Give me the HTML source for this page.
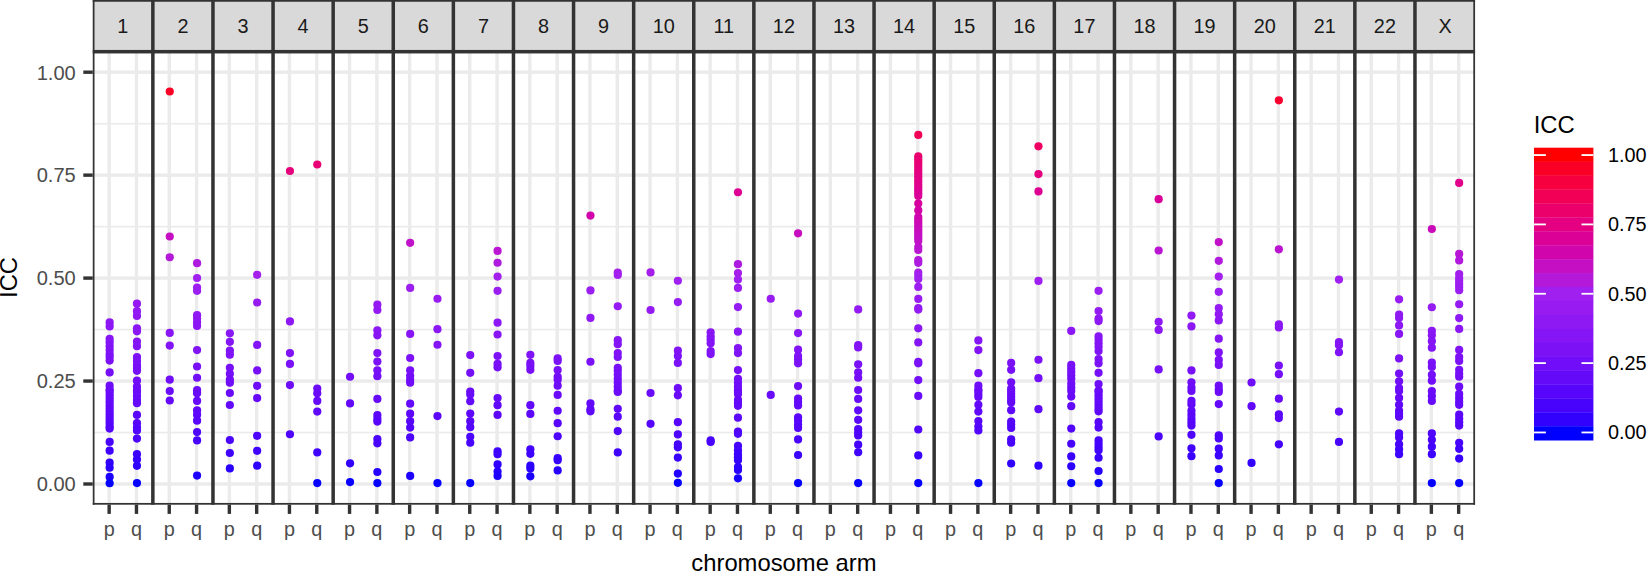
<!DOCTYPE html><html><head><meta charset="utf-8"><title>ICC by chromosome arm</title>
<style>html,body{margin:0;padding:0;background:#fff}svg{display:block}text{font-family:"Liberation Sans",Arial,Helvetica,sans-serif}</style></head><body>
<svg width="1647" height="572" viewBox="0 0 1647 572">
<rect width="1647" height="572" fill="#fff"/>
<rect x="92.76" y="0" width="1382.30" height="51.7" fill="#d9d9d9"/>
<g fill="#ebebeb"><rect x="92.76" y="431.67" width="1382.30" height="1.7"/><rect x="92.76" y="328.72" width="1382.30" height="1.7"/><rect x="92.76" y="225.78" width="1382.30" height="1.7"/><rect x="92.76" y="122.83" width="1382.30" height="1.7"/><rect x="92.76" y="482.30" width="1382.30" height="3.4"/><rect x="92.76" y="379.35" width="1382.30" height="3.4"/><rect x="92.76" y="276.40" width="1382.30" height="3.4"/><rect x="92.76" y="173.45" width="1382.30" height="3.4"/><rect x="92.76" y="70.50" width="1382.30" height="3.4"/><rect x="107.45" y="51.7" width="3.4" height="453.00"/><rect x="134.77" y="51.7" width="3.4" height="453.00"/><rect x="167.55" y="51.7" width="3.4" height="453.00"/><rect x="194.87" y="51.7" width="3.4" height="453.00"/><rect x="227.65" y="51.7" width="3.4" height="453.00"/><rect x="254.97" y="51.7" width="3.4" height="453.00"/><rect x="287.75" y="51.7" width="3.4" height="453.00"/><rect x="315.07" y="51.7" width="3.4" height="453.00"/><rect x="347.85" y="51.7" width="3.4" height="453.00"/><rect x="375.17" y="51.7" width="3.4" height="453.00"/><rect x="407.95" y="51.7" width="3.4" height="453.00"/><rect x="435.27" y="51.7" width="3.4" height="453.00"/><rect x="468.05" y="51.7" width="3.4" height="453.00"/><rect x="495.37" y="51.7" width="3.4" height="453.00"/><rect x="528.15" y="51.7" width="3.4" height="453.00"/><rect x="555.47" y="51.7" width="3.4" height="453.00"/><rect x="588.25" y="51.7" width="3.4" height="453.00"/><rect x="615.57" y="51.7" width="3.4" height="453.00"/><rect x="648.35" y="51.7" width="3.4" height="453.00"/><rect x="675.67" y="51.7" width="3.4" height="453.00"/><rect x="708.45" y="51.7" width="3.4" height="453.00"/><rect x="735.77" y="51.7" width="3.4" height="453.00"/><rect x="768.55" y="51.7" width="3.4" height="453.00"/><rect x="795.87" y="51.7" width="3.4" height="453.00"/><rect x="828.65" y="51.7" width="3.4" height="453.00"/><rect x="855.97" y="51.7" width="3.4" height="453.00"/><rect x="888.75" y="51.7" width="3.4" height="453.00"/><rect x="916.07" y="51.7" width="3.4" height="453.00"/><rect x="948.85" y="51.7" width="3.4" height="453.00"/><rect x="976.17" y="51.7" width="3.4" height="453.00"/><rect x="1008.95" y="51.7" width="3.4" height="453.00"/><rect x="1036.27" y="51.7" width="3.4" height="453.00"/><rect x="1069.05" y="51.7" width="3.4" height="453.00"/><rect x="1096.37" y="51.7" width="3.4" height="453.00"/><rect x="1129.15" y="51.7" width="3.4" height="453.00"/><rect x="1156.47" y="51.7" width="3.4" height="453.00"/><rect x="1189.25" y="51.7" width="3.4" height="453.00"/><rect x="1216.57" y="51.7" width="3.4" height="453.00"/><rect x="1249.35" y="51.7" width="3.4" height="453.00"/><rect x="1276.67" y="51.7" width="3.4" height="453.00"/><rect x="1309.45" y="51.7" width="3.4" height="453.00"/><rect x="1336.77" y="51.7" width="3.4" height="453.00"/><rect x="1369.55" y="51.7" width="3.4" height="453.00"/><rect x="1396.87" y="51.7" width="3.4" height="453.00"/><rect x="1429.65" y="51.7" width="3.4" height="453.00"/><rect x="1456.97" y="51.7" width="3.4" height="453.00"/></g>
<g><circle cx="109.65" cy="322.44" r="4.1" fill="#8e18f3"/><circle cx="109.65" cy="326.39" r="4.1" fill="#8c17f4"/><circle cx="109.65" cy="338.83" r="4.1" fill="#8615f4"/><circle cx="109.65" cy="342.19" r="4.1" fill="#8515f5"/><circle cx="109.65" cy="346.14" r="4.1" fill="#8314f5"/><circle cx="109.65" cy="350.09" r="4.1" fill="#8113f5"/><circle cx="109.65" cy="354.04" r="4.1" fill="#7f12f6"/><circle cx="109.65" cy="357.00" r="4.1" fill="#7d12f6"/><circle cx="109.65" cy="360.56" r="4.1" fill="#7c11f6"/><circle cx="109.65" cy="372.41" r="4.1" fill="#760ff7"/><circle cx="109.65" cy="385.64" r="4.1" fill="#6e0df8"/><circle cx="109.65" cy="389.59" r="4.1" fill="#6c0cf8"/><circle cx="109.65" cy="391.00" r="4.1" fill="#6b0cf8"/><circle cx="109.65" cy="393.96" r="4.1" fill="#6a0bf9"/><circle cx="109.65" cy="396.93" r="4.1" fill="#680af9"/><circle cx="109.65" cy="399.89" r="4.1" fill="#660af9"/><circle cx="109.65" cy="402.85" r="4.1" fill="#6409f9"/><circle cx="109.65" cy="405.81" r="4.1" fill="#6309f9"/><circle cx="109.65" cy="408.78" r="4.1" fill="#6108fa"/><circle cx="109.65" cy="411.74" r="4.1" fill="#5f08fa"/><circle cx="109.65" cy="414.70" r="4.1" fill="#5d07fa"/><circle cx="109.65" cy="417.66" r="4.1" fill="#5b07fa"/><circle cx="109.65" cy="420.63" r="4.1" fill="#5906fa"/><circle cx="109.65" cy="423.59" r="4.1" fill="#5706fb"/><circle cx="109.65" cy="426.55" r="4.1" fill="#5405fb"/><circle cx="109.65" cy="428.53" r="4.1" fill="#5305fb"/><circle cx="109.65" cy="441.96" r="4.1" fill="#4803fc"/><circle cx="109.65" cy="450.65" r="4.1" fill="#4002fd"/><circle cx="109.65" cy="462.70" r="4.1" fill="#3201fd"/><circle cx="109.65" cy="467.63" r="4.1" fill="#2c01fe"/><circle cx="109.65" cy="476.92" r="4.1" fill="#1b00fe"/><circle cx="109.65" cy="483.24" r="4.1" fill="#0400ff"/><circle cx="136.97" cy="303.68" r="4.1" fill="#961bf2"/><circle cx="136.97" cy="311.18" r="4.1" fill="#921af2"/><circle cx="136.97" cy="315.92" r="4.1" fill="#9019f3"/><circle cx="136.97" cy="328.37" r="4.1" fill="#8b17f4"/><circle cx="136.97" cy="331.33" r="4.1" fill="#8a17f4"/><circle cx="136.97" cy="341.60" r="4.1" fill="#8515f5"/><circle cx="136.97" cy="346.14" r="4.1" fill="#8314f5"/><circle cx="136.97" cy="357.00" r="4.1" fill="#7d12f6"/><circle cx="136.97" cy="360.95" r="4.1" fill="#7b11f6"/><circle cx="136.97" cy="364.90" r="4.1" fill="#7910f6"/><circle cx="136.97" cy="367.87" r="4.1" fill="#7810f7"/><circle cx="136.97" cy="370.83" r="4.1" fill="#760ff7"/><circle cx="136.97" cy="380.71" r="4.1" fill="#710df8"/><circle cx="136.97" cy="386.63" r="4.1" fill="#6e0cf8"/><circle cx="136.97" cy="390.58" r="4.1" fill="#6c0cf8"/><circle cx="136.97" cy="391.99" r="4.1" fill="#6b0bf8"/><circle cx="136.97" cy="395.94" r="4.1" fill="#690bf9"/><circle cx="136.97" cy="399.89" r="4.1" fill="#660af9"/><circle cx="136.97" cy="403.25" r="4.1" fill="#6409f9"/><circle cx="136.97" cy="414.90" r="4.1" fill="#5d07fa"/><circle cx="136.97" cy="423.19" r="4.1" fill="#5706fb"/><circle cx="136.97" cy="427.54" r="4.1" fill="#5405fb"/><circle cx="136.97" cy="430.50" r="4.1" fill="#5105fb"/><circle cx="136.97" cy="438.60" r="4.1" fill="#4b04fc"/><circle cx="136.97" cy="454.20" r="4.1" fill="#3c02fd"/><circle cx="136.97" cy="459.54" r="4.1" fill="#3602fd"/><circle cx="136.97" cy="465.86" r="4.1" fill="#2e01fe"/><circle cx="136.97" cy="483.04" r="4.1" fill="#0500ff"/><circle cx="169.75" cy="91.50" r="4.1" fill="#fb0025"/><circle cx="169.75" cy="236.50" r="4.1" fill="#c40fc2"/><circle cx="169.75" cy="257.24" r="4.1" fill="#b418d9"/><circle cx="169.75" cy="332.91" r="4.1" fill="#8916f4"/><circle cx="169.75" cy="345.55" r="4.1" fill="#8314f5"/><circle cx="169.75" cy="379.72" r="4.1" fill="#720ef7"/><circle cx="169.75" cy="391.00" r="4.1" fill="#6b0cf8"/><circle cx="169.75" cy="400.48" r="4.1" fill="#660af9"/><circle cx="197.07" cy="263.16" r="4.1" fill="#af1adf"/><circle cx="197.07" cy="277.98" r="4.1" fill="#a020f0"/><circle cx="197.07" cy="287.48" r="4.1" fill="#9c1ef1"/><circle cx="197.07" cy="290.84" r="4.1" fill="#9b1ef1"/><circle cx="197.07" cy="315.13" r="4.1" fill="#9119f3"/><circle cx="197.07" cy="318.49" r="4.1" fill="#8f19f3"/><circle cx="197.07" cy="322.44" r="4.1" fill="#8e18f3"/><circle cx="197.07" cy="326.00" r="4.1" fill="#8c17f4"/><circle cx="197.07" cy="350.09" r="4.1" fill="#8113f5"/><circle cx="197.07" cy="366.49" r="4.1" fill="#7910f7"/><circle cx="197.07" cy="377.74" r="4.1" fill="#730ef7"/><circle cx="197.07" cy="390.19" r="4.1" fill="#6c0cf8"/><circle cx="197.07" cy="393.37" r="4.1" fill="#6a0bf8"/><circle cx="197.07" cy="400.88" r="4.1" fill="#660af9"/><circle cx="197.07" cy="410.36" r="4.1" fill="#6008fa"/><circle cx="197.07" cy="414.70" r="4.1" fill="#5d07fa"/><circle cx="197.07" cy="420.63" r="4.1" fill="#5906fa"/><circle cx="197.07" cy="432.08" r="4.1" fill="#5005fb"/><circle cx="197.07" cy="440.38" r="4.1" fill="#4904fc"/><circle cx="197.07" cy="475.53" r="4.1" fill="#1e00fe"/><circle cx="229.85" cy="333.30" r="4.1" fill="#8916f4"/><circle cx="229.85" cy="341.80" r="4.1" fill="#8515f5"/><circle cx="229.85" cy="350.68" r="4.1" fill="#8113f5"/><circle cx="229.85" cy="354.63" r="4.1" fill="#7f12f6"/><circle cx="229.85" cy="367.87" r="4.1" fill="#7810f7"/><circle cx="229.85" cy="373.79" r="4.1" fill="#750ff7"/><circle cx="229.85" cy="379.72" r="4.1" fill="#720ef7"/><circle cx="229.85" cy="382.68" r="4.1" fill="#700df8"/><circle cx="229.85" cy="392.98" r="4.1" fill="#6a0bf8"/><circle cx="229.85" cy="405.02" r="4.1" fill="#6309f9"/><circle cx="229.85" cy="439.98" r="4.1" fill="#4a04fc"/><circle cx="229.85" cy="453.02" r="4.1" fill="#3e02fd"/><circle cx="229.85" cy="468.42" r="4.1" fill="#2b01fe"/><circle cx="257.17" cy="274.82" r="4.1" fill="#a41fec"/><circle cx="257.17" cy="302.49" r="4.1" fill="#961cf2"/><circle cx="257.17" cy="344.96" r="4.1" fill="#8314f5"/><circle cx="257.17" cy="370.44" r="4.1" fill="#770ff7"/><circle cx="257.17" cy="385.84" r="4.1" fill="#6e0df8"/><circle cx="257.17" cy="398.11" r="4.1" fill="#670af9"/><circle cx="257.17" cy="435.84" r="4.1" fill="#4d04fc"/><circle cx="257.17" cy="450.85" r="4.1" fill="#4002fd"/><circle cx="257.17" cy="465.66" r="4.1" fill="#2f01fe"/><circle cx="289.95" cy="171.00" r="4.1" fill="#e5007c"/><circle cx="289.95" cy="321.45" r="4.1" fill="#8e18f3"/><circle cx="289.95" cy="353.05" r="4.1" fill="#7f13f6"/><circle cx="289.95" cy="363.92" r="4.1" fill="#7a11f6"/><circle cx="289.95" cy="385.05" r="4.1" fill="#6f0df8"/><circle cx="289.95" cy="434.25" r="4.1" fill="#4f04fb"/><circle cx="317.27" cy="164.50" r="4.1" fill="#e80075"/><circle cx="317.27" cy="388.61" r="4.1" fill="#6d0cf8"/><circle cx="317.27" cy="393.37" r="4.1" fill="#6a0bf8"/><circle cx="317.27" cy="400.88" r="4.1" fill="#660af9"/><circle cx="317.27" cy="411.54" r="4.1" fill="#5f08fa"/><circle cx="317.27" cy="452.43" r="4.1" fill="#3e02fd"/><circle cx="317.27" cy="483.04" r="4.1" fill="#0500ff"/><circle cx="350.05" cy="376.76" r="4.1" fill="#730ef7"/><circle cx="350.05" cy="403.44" r="4.1" fill="#6409f9"/><circle cx="350.05" cy="463.29" r="4.1" fill="#3201fe"/><circle cx="350.05" cy="482.05" r="4.1" fill="#0a00ff"/><circle cx="377.37" cy="304.66" r="4.1" fill="#951bf2"/><circle cx="377.37" cy="310.00" r="4.1" fill="#931af2"/><circle cx="377.37" cy="330.34" r="4.1" fill="#8a17f4"/><circle cx="377.37" cy="335.28" r="4.1" fill="#8816f4"/><circle cx="377.37" cy="353.05" r="4.1" fill="#7f13f6"/><circle cx="377.37" cy="361.55" r="4.1" fill="#7b11f6"/><circle cx="377.37" cy="370.24" r="4.1" fill="#770ff7"/><circle cx="377.37" cy="376.16" r="4.1" fill="#740ef7"/><circle cx="377.37" cy="398.90" r="4.1" fill="#670af9"/><circle cx="377.37" cy="415.10" r="4.1" fill="#5c07fa"/><circle cx="377.37" cy="418.65" r="4.1" fill="#5a07fa"/><circle cx="377.37" cy="421.61" r="4.1" fill="#5806fb"/><circle cx="377.37" cy="439.00" r="4.1" fill="#4b04fc"/><circle cx="377.37" cy="443.34" r="4.1" fill="#4703fc"/><circle cx="377.37" cy="471.98" r="4.1" fill="#2501fe"/><circle cx="377.37" cy="483.04" r="4.1" fill="#0500ff"/><circle cx="410.15" cy="242.82" r="4.1" fill="#c012c9"/><circle cx="410.15" cy="287.88" r="4.1" fill="#9c1ef1"/><circle cx="410.15" cy="333.90" r="4.1" fill="#8816f4"/><circle cx="410.15" cy="357.99" r="4.1" fill="#7d12f6"/><circle cx="410.15" cy="370.24" r="4.1" fill="#770ff7"/><circle cx="410.15" cy="375.77" r="4.1" fill="#740ef7"/><circle cx="410.15" cy="379.72" r="4.1" fill="#720ef7"/><circle cx="410.15" cy="382.68" r="4.1" fill="#700df8"/><circle cx="410.15" cy="403.64" r="4.1" fill="#6409f9"/><circle cx="410.15" cy="413.71" r="4.1" fill="#5d07fa"/><circle cx="410.15" cy="421.22" r="4.1" fill="#5806fa"/><circle cx="410.15" cy="427.54" r="4.1" fill="#5405fb"/><circle cx="410.15" cy="437.42" r="4.1" fill="#4c04fc"/><circle cx="410.15" cy="475.93" r="4.1" fill="#1d00fe"/><circle cx="437.47" cy="298.74" r="4.1" fill="#981cf2"/><circle cx="437.47" cy="329.16" r="4.1" fill="#8b17f4"/><circle cx="437.47" cy="344.76" r="4.1" fill="#8314f5"/><circle cx="437.47" cy="416.08" r="4.1" fill="#5c07fa"/><circle cx="437.47" cy="483.04" r="4.1" fill="#0500ff"/><circle cx="470.25" cy="355.03" r="4.1" fill="#7e12f6"/><circle cx="470.25" cy="372.81" r="4.1" fill="#750ff7"/><circle cx="470.25" cy="391.59" r="4.1" fill="#6b0bf8"/><circle cx="470.25" cy="394.56" r="4.1" fill="#690bf9"/><circle cx="470.25" cy="401.27" r="4.1" fill="#650af9"/><circle cx="470.25" cy="413.52" r="4.1" fill="#5e07fa"/><circle cx="470.25" cy="421.22" r="4.1" fill="#5806fa"/><circle cx="470.25" cy="427.14" r="4.1" fill="#5405fb"/><circle cx="470.25" cy="436.82" r="4.1" fill="#4c04fc"/><circle cx="470.25" cy="442.75" r="4.1" fill="#4703fc"/><circle cx="470.25" cy="483.04" r="4.1" fill="#0500ff"/><circle cx="497.57" cy="250.92" r="4.1" fill="#ba15d2"/><circle cx="497.57" cy="262.77" r="4.1" fill="#af1adf"/><circle cx="497.57" cy="276.59" r="4.1" fill="#a21fee"/><circle cx="497.57" cy="290.84" r="4.1" fill="#9b1ef1"/><circle cx="497.57" cy="322.64" r="4.1" fill="#8d18f3"/><circle cx="497.57" cy="334.49" r="4.1" fill="#8816f4"/><circle cx="497.57" cy="356.02" r="4.1" fill="#7e12f6"/><circle cx="497.57" cy="363.92" r="4.1" fill="#7a11f6"/><circle cx="497.57" cy="367.28" r="4.1" fill="#7810f7"/><circle cx="497.57" cy="398.11" r="4.1" fill="#670af9"/><circle cx="497.57" cy="405.22" r="4.1" fill="#6309f9"/><circle cx="497.57" cy="414.90" r="4.1" fill="#5d07fa"/><circle cx="497.57" cy="451.24" r="4.1" fill="#3f02fd"/><circle cx="497.57" cy="454.20" r="4.1" fill="#3c02fd"/><circle cx="497.57" cy="464.47" r="4.1" fill="#3001fe"/><circle cx="497.57" cy="471.58" r="4.1" fill="#2501fe"/><circle cx="497.57" cy="475.93" r="4.1" fill="#1d00fe"/><circle cx="530.35" cy="354.83" r="4.1" fill="#7f12f6"/><circle cx="530.35" cy="362.93" r="4.1" fill="#7a11f6"/><circle cx="530.35" cy="365.89" r="4.1" fill="#7910f6"/><circle cx="530.35" cy="369.84" r="4.1" fill="#7710f7"/><circle cx="530.35" cy="405.22" r="4.1" fill="#6309f9"/><circle cx="530.35" cy="413.91" r="4.1" fill="#5d07fa"/><circle cx="530.35" cy="449.27" r="4.1" fill="#4103fd"/><circle cx="530.35" cy="453.81" r="4.1" fill="#3d02fd"/><circle cx="530.35" cy="465.66" r="4.1" fill="#2f01fe"/><circle cx="530.35" cy="468.42" r="4.1" fill="#2b01fe"/><circle cx="530.35" cy="476.32" r="4.1" fill="#1c00fe"/><circle cx="557.67" cy="358.39" r="4.1" fill="#7d12f6"/><circle cx="557.67" cy="360.95" r="4.1" fill="#7b11f6"/><circle cx="557.67" cy="370.04" r="4.1" fill="#770ff7"/><circle cx="557.67" cy="376.76" r="4.1" fill="#730ef7"/><circle cx="557.67" cy="379.72" r="4.1" fill="#720ef7"/><circle cx="557.67" cy="385.64" r="4.1" fill="#6e0df8"/><circle cx="557.67" cy="394.95" r="4.1" fill="#690bf9"/><circle cx="557.67" cy="410.75" r="4.1" fill="#5f08fa"/><circle cx="557.67" cy="423.19" r="4.1" fill="#5706fb"/><circle cx="557.67" cy="436.23" r="4.1" fill="#4d04fc"/><circle cx="557.67" cy="458.15" r="4.1" fill="#3802fd"/><circle cx="557.67" cy="460.13" r="4.1" fill="#3602fd"/><circle cx="557.67" cy="470.40" r="4.1" fill="#2701fe"/><circle cx="590.45" cy="215.56" r="4.1" fill="#d104ab"/><circle cx="590.45" cy="290.44" r="4.1" fill="#9b1ef1"/><circle cx="590.45" cy="317.90" r="4.1" fill="#9019f3"/><circle cx="590.45" cy="361.74" r="4.1" fill="#7b11f6"/><circle cx="590.45" cy="403.44" r="4.1" fill="#6409f9"/><circle cx="590.45" cy="409.37" r="4.1" fill="#6008fa"/><circle cx="590.45" cy="411.34" r="4.1" fill="#5f08fa"/><circle cx="617.77" cy="272.64" r="4.1" fill="#a61eea"/><circle cx="617.77" cy="275.01" r="4.1" fill="#a31fed"/><circle cx="617.77" cy="306.24" r="4.1" fill="#951bf2"/><circle cx="617.77" cy="340.22" r="4.1" fill="#8515f5"/><circle cx="617.77" cy="344.17" r="4.1" fill="#8414f5"/><circle cx="617.77" cy="353.05" r="4.1" fill="#7f13f6"/><circle cx="617.77" cy="357.00" r="4.1" fill="#7d12f6"/><circle cx="617.77" cy="367.87" r="4.1" fill="#7810f7"/><circle cx="617.77" cy="370.83" r="4.1" fill="#760ff7"/><circle cx="617.77" cy="374.78" r="4.1" fill="#740ff7"/><circle cx="617.77" cy="378.73" r="4.1" fill="#720ef7"/><circle cx="617.77" cy="382.68" r="4.1" fill="#700df8"/><circle cx="617.77" cy="386.63" r="4.1" fill="#6e0cf8"/><circle cx="617.77" cy="390.58" r="4.1" fill="#6c0cf8"/><circle cx="617.77" cy="391.99" r="4.1" fill="#6b0bf8"/><circle cx="617.77" cy="408.78" r="4.1" fill="#6108fa"/><circle cx="617.77" cy="416.68" r="4.1" fill="#5b07fa"/><circle cx="617.77" cy="431.09" r="4.1" fill="#5105fb"/><circle cx="617.77" cy="452.43" r="4.1" fill="#3e02fd"/><circle cx="650.55" cy="272.45" r="4.1" fill="#a61eea"/><circle cx="650.55" cy="310.00" r="4.1" fill="#931af2"/><circle cx="650.55" cy="392.98" r="4.1" fill="#6a0bf8"/><circle cx="650.55" cy="423.79" r="4.1" fill="#5606fb"/><circle cx="677.87" cy="280.77" r="4.1" fill="#9f20f0"/><circle cx="677.87" cy="302.10" r="4.1" fill="#961cf2"/><circle cx="677.87" cy="350.68" r="4.1" fill="#8113f5"/><circle cx="677.87" cy="356.02" r="4.1" fill="#7e12f6"/><circle cx="677.87" cy="362.93" r="4.1" fill="#7a11f6"/><circle cx="677.87" cy="388.21" r="4.1" fill="#6d0cf8"/><circle cx="677.87" cy="395.35" r="4.1" fill="#690bf9"/><circle cx="677.87" cy="422.21" r="4.1" fill="#5806fb"/><circle cx="677.87" cy="434.45" r="4.1" fill="#4e04fb"/><circle cx="677.87" cy="444.33" r="4.1" fill="#4603fc"/><circle cx="677.87" cy="447.29" r="4.1" fill="#4303fc"/><circle cx="677.87" cy="457.56" r="4.1" fill="#3902fd"/><circle cx="677.87" cy="473.56" r="4.1" fill="#2201fe"/><circle cx="677.87" cy="482.84" r="4.1" fill="#0600ff"/><circle cx="710.65" cy="332.32" r="4.1" fill="#8916f4"/><circle cx="710.65" cy="336.27" r="4.1" fill="#8716f4"/><circle cx="710.65" cy="339.62" r="4.1" fill="#8615f5"/><circle cx="710.65" cy="343.18" r="4.1" fill="#8414f5"/><circle cx="710.65" cy="351.08" r="4.1" fill="#8013f5"/><circle cx="710.65" cy="354.04" r="4.1" fill="#7f12f6"/><circle cx="710.65" cy="440.38" r="4.1" fill="#4904fc"/><circle cx="710.65" cy="441.96" r="4.1" fill="#4803fc"/><circle cx="737.97" cy="192.26" r="4.1" fill="#dd0093"/><circle cx="737.97" cy="264.15" r="4.1" fill="#ae1be0"/><circle cx="737.97" cy="273.04" r="4.1" fill="#a51eea"/><circle cx="737.97" cy="279.58" r="4.1" fill="#9f20f0"/><circle cx="737.97" cy="287.88" r="4.1" fill="#9c1ef1"/><circle cx="737.97" cy="307.03" r="4.1" fill="#941bf2"/><circle cx="737.97" cy="331.72" r="4.1" fill="#8916f4"/><circle cx="737.97" cy="348.12" r="4.1" fill="#8213f5"/><circle cx="737.97" cy="353.05" r="4.1" fill="#7f13f6"/><circle cx="737.97" cy="370.04" r="4.1" fill="#770ff7"/><circle cx="737.97" cy="378.73" r="4.1" fill="#720ef7"/><circle cx="737.97" cy="382.68" r="4.1" fill="#700df8"/><circle cx="737.97" cy="386.63" r="4.1" fill="#6e0cf8"/><circle cx="737.97" cy="390.19" r="4.1" fill="#6c0cf8"/><circle cx="737.97" cy="391.99" r="4.1" fill="#6b0bf8"/><circle cx="737.97" cy="393.96" r="4.1" fill="#6a0bf9"/><circle cx="737.97" cy="399.89" r="4.1" fill="#660af9"/><circle cx="737.97" cy="402.85" r="4.1" fill="#6409f9"/><circle cx="737.97" cy="405.81" r="4.1" fill="#6309f9"/><circle cx="737.97" cy="417.66" r="4.1" fill="#5b07fa"/><circle cx="737.97" cy="431.49" r="4.1" fill="#5105fb"/><circle cx="737.97" cy="433.86" r="4.1" fill="#4f04fb"/><circle cx="737.97" cy="445.91" r="4.1" fill="#4503fc"/><circle cx="737.97" cy="450.25" r="4.1" fill="#4003fd"/><circle cx="737.97" cy="454.20" r="4.1" fill="#3c02fd"/><circle cx="737.97" cy="457.17" r="4.1" fill="#3902fd"/><circle cx="737.97" cy="460.13" r="4.1" fill="#3602fd"/><circle cx="737.97" cy="467.04" r="4.1" fill="#2d01fe"/><circle cx="737.97" cy="470.00" r="4.1" fill="#2801fe"/><circle cx="737.97" cy="478.30" r="4.1" fill="#1700ff"/><circle cx="770.75" cy="298.74" r="4.1" fill="#981cf2"/><circle cx="770.75" cy="394.95" r="4.1" fill="#690bf9"/><circle cx="798.07" cy="233.34" r="4.1" fill="#c60dbf"/><circle cx="798.07" cy="313.55" r="4.1" fill="#911af3"/><circle cx="798.07" cy="333.11" r="4.1" fill="#8916f4"/><circle cx="798.07" cy="349.70" r="4.1" fill="#8113f5"/><circle cx="798.07" cy="356.02" r="4.1" fill="#7e12f6"/><circle cx="798.07" cy="359.37" r="4.1" fill="#7c11f6"/><circle cx="798.07" cy="363.32" r="4.1" fill="#7a11f6"/><circle cx="798.07" cy="386.04" r="4.1" fill="#6e0cf8"/><circle cx="798.07" cy="398.51" r="4.1" fill="#670af9"/><circle cx="798.07" cy="401.86" r="4.1" fill="#6509f9"/><circle cx="798.07" cy="405.42" r="4.1" fill="#6309f9"/><circle cx="798.07" cy="417.27" r="4.1" fill="#5b07fa"/><circle cx="798.07" cy="420.63" r="4.1" fill="#5906fa"/><circle cx="798.07" cy="424.58" r="4.1" fill="#5606fb"/><circle cx="798.07" cy="427.93" r="4.1" fill="#5305fb"/><circle cx="798.07" cy="439.39" r="4.1" fill="#4a04fc"/><circle cx="798.07" cy="454.99" r="4.1" fill="#3b02fd"/><circle cx="798.07" cy="483.04" r="4.1" fill="#0500ff"/><circle cx="858.17" cy="309.40" r="4.1" fill="#931af2"/><circle cx="858.17" cy="345.15" r="4.1" fill="#8314f5"/><circle cx="858.17" cy="347.52" r="4.1" fill="#8214f5"/><circle cx="858.17" cy="364.31" r="4.1" fill="#7a11f6"/><circle cx="858.17" cy="372.41" r="4.1" fill="#760ff7"/><circle cx="858.17" cy="377.74" r="4.1" fill="#730ef7"/><circle cx="858.17" cy="390.01" r="4.1" fill="#6c0cf8"/><circle cx="858.17" cy="398.90" r="4.1" fill="#670af9"/><circle cx="858.17" cy="410.36" r="4.1" fill="#6008fa"/><circle cx="858.17" cy="419.84" r="4.1" fill="#5906fa"/><circle cx="858.17" cy="429.12" r="4.1" fill="#5305fb"/><circle cx="858.17" cy="432.48" r="4.1" fill="#5005fb"/><circle cx="858.17" cy="435.44" r="4.1" fill="#4e04fc"/><circle cx="858.17" cy="444.72" r="4.1" fill="#4603fc"/><circle cx="858.17" cy="452.23" r="4.1" fill="#3e02fd"/><circle cx="858.17" cy="483.04" r="4.1" fill="#0500ff"/><circle cx="918.27" cy="134.90" r="4.1" fill="#f10057"/><circle cx="918.27" cy="156.30" r="4.1" fill="#ea006d"/><circle cx="918.27" cy="159.14" r="4.1" fill="#e90070"/><circle cx="918.27" cy="161.97" r="4.1" fill="#e80073"/><circle cx="918.27" cy="164.81" r="4.1" fill="#e70076"/><circle cx="918.27" cy="167.64" r="4.1" fill="#e60079"/><circle cx="918.27" cy="170.48" r="4.1" fill="#e5007c"/><circle cx="918.27" cy="173.31" r="4.1" fill="#e4007f"/><circle cx="918.27" cy="176.15" r="4.1" fill="#e30082"/><circle cx="918.27" cy="178.99" r="4.1" fill="#e20085"/><circle cx="918.27" cy="181.82" r="4.1" fill="#e10088"/><circle cx="918.27" cy="184.66" r="4.1" fill="#e0008b"/><circle cx="918.27" cy="187.49" r="4.1" fill="#df008e"/><circle cx="918.27" cy="190.33" r="4.1" fill="#dd0091"/><circle cx="918.27" cy="193.16" r="4.1" fill="#dc0094"/><circle cx="918.27" cy="196.00" r="4.1" fill="#db0097"/><circle cx="918.27" cy="203.50" r="4.1" fill="#d7009e"/><circle cx="918.27" cy="210.40" r="4.1" fill="#d402a6"/><circle cx="918.27" cy="217.00" r="4.1" fill="#d005ad"/><circle cx="918.27" cy="219.67" r="4.1" fill="#cf06b0"/><circle cx="918.27" cy="222.33" r="4.1" fill="#cd08b3"/><circle cx="918.27" cy="225.00" r="4.1" fill="#cb09b6"/><circle cx="918.27" cy="227.67" r="4.1" fill="#ca0ab8"/><circle cx="918.27" cy="230.33" r="4.1" fill="#c80cbb"/><circle cx="918.27" cy="233.00" r="4.1" fill="#c60dbe"/><circle cx="918.27" cy="235.67" r="4.1" fill="#c50ec1"/><circle cx="918.27" cy="238.33" r="4.1" fill="#c310c4"/><circle cx="918.27" cy="241.00" r="4.1" fill="#c111c7"/><circle cx="918.27" cy="247.00" r="4.1" fill="#bd13cd"/><circle cx="918.27" cy="250.00" r="4.1" fill="#ba15d1"/><circle cx="918.27" cy="260.20" r="4.1" fill="#b219dc"/><circle cx="918.27" cy="262.80" r="4.1" fill="#af1adf"/><circle cx="918.27" cy="272.60" r="4.1" fill="#a61eea"/><circle cx="918.27" cy="275.60" r="4.1" fill="#a31fed"/><circle cx="918.27" cy="278.99" r="4.1" fill="#a020f0"/><circle cx="918.27" cy="286.89" r="4.1" fill="#9c1ef1"/><circle cx="918.27" cy="298.94" r="4.1" fill="#981cf2"/><circle cx="918.27" cy="308.02" r="4.1" fill="#941bf2"/><circle cx="918.27" cy="309.60" r="4.1" fill="#931af2"/><circle cx="918.27" cy="328.37" r="4.1" fill="#8b17f4"/><circle cx="918.27" cy="342.39" r="4.1" fill="#8415f5"/><circle cx="918.27" cy="361.94" r="4.1" fill="#7b11f6"/><circle cx="918.27" cy="363.32" r="4.1" fill="#7a11f6"/><circle cx="918.27" cy="380.11" r="4.1" fill="#720ef8"/><circle cx="918.27" cy="395.94" r="4.1" fill="#690bf9"/><circle cx="918.27" cy="429.51" r="4.1" fill="#5205fb"/><circle cx="918.27" cy="455.39" r="4.1" fill="#3b02fd"/><circle cx="918.27" cy="483.04" r="4.1" fill="#0500ff"/><circle cx="978.37" cy="340.41" r="4.1" fill="#8515f5"/><circle cx="978.37" cy="350.09" r="4.1" fill="#8113f5"/><circle cx="978.37" cy="373.20" r="4.1" fill="#750ff7"/><circle cx="978.37" cy="385.64" r="4.1" fill="#6e0df8"/><circle cx="978.37" cy="389.59" r="4.1" fill="#6c0cf8"/><circle cx="978.37" cy="391.00" r="4.1" fill="#6b0cf8"/><circle cx="978.37" cy="393.96" r="4.1" fill="#6a0bf9"/><circle cx="978.37" cy="396.93" r="4.1" fill="#680af9"/><circle cx="978.37" cy="404.83" r="4.1" fill="#6309f9"/><circle cx="978.37" cy="411.54" r="4.1" fill="#5f08fa"/><circle cx="978.37" cy="421.02" r="4.1" fill="#5806fa"/><circle cx="978.37" cy="426.55" r="4.1" fill="#5405fb"/><circle cx="978.37" cy="430.50" r="4.1" fill="#5105fb"/><circle cx="978.37" cy="483.04" r="4.1" fill="#0500ff"/><circle cx="1011.15" cy="362.93" r="4.1" fill="#7a11f6"/><circle cx="1011.15" cy="369.84" r="4.1" fill="#7710f7"/><circle cx="1011.15" cy="382.29" r="4.1" fill="#700df8"/><circle cx="1011.15" cy="388.61" r="4.1" fill="#6d0cf8"/><circle cx="1011.15" cy="391.00" r="4.1" fill="#6b0cf8"/><circle cx="1011.15" cy="393.96" r="4.1" fill="#6a0bf9"/><circle cx="1011.15" cy="396.93" r="4.1" fill="#680af9"/><circle cx="1011.15" cy="399.89" r="4.1" fill="#660af9"/><circle cx="1011.15" cy="402.46" r="4.1" fill="#6509f9"/><circle cx="1011.15" cy="410.16" r="4.1" fill="#6008fa"/><circle cx="1011.15" cy="421.61" r="4.1" fill="#5806fb"/><circle cx="1011.15" cy="424.58" r="4.1" fill="#5606fb"/><circle cx="1011.15" cy="427.93" r="4.1" fill="#5305fb"/><circle cx="1011.15" cy="439.39" r="4.1" fill="#4a04fc"/><circle cx="1011.15" cy="442.75" r="4.1" fill="#4703fc"/><circle cx="1011.15" cy="463.49" r="4.1" fill="#3101fe"/><circle cx="1038.47" cy="146.30" r="4.1" fill="#ee0062"/><circle cx="1038.47" cy="174.09" r="4.1" fill="#e4007f"/><circle cx="1038.47" cy="191.47" r="4.1" fill="#dd0092"/><circle cx="1038.47" cy="280.96" r="4.1" fill="#9f1ff0"/><circle cx="1038.47" cy="359.77" r="4.1" fill="#7c11f6"/><circle cx="1038.47" cy="378.14" r="4.1" fill="#730ef7"/><circle cx="1038.47" cy="409.17" r="4.1" fill="#6008fa"/><circle cx="1038.47" cy="465.66" r="4.1" fill="#2f01fe"/><circle cx="1071.25" cy="330.93" r="4.1" fill="#8a17f4"/><circle cx="1071.25" cy="364.90" r="4.1" fill="#7910f6"/><circle cx="1071.25" cy="368.46" r="4.1" fill="#7810f7"/><circle cx="1071.25" cy="371.82" r="4.1" fill="#760ff7"/><circle cx="1071.25" cy="375.18" r="4.1" fill="#740ff7"/><circle cx="1071.25" cy="378.73" r="4.1" fill="#720ef7"/><circle cx="1071.25" cy="383.67" r="4.1" fill="#700df8"/><circle cx="1071.25" cy="387.62" r="4.1" fill="#6d0cf8"/><circle cx="1071.25" cy="390.98" r="4.1" fill="#6b0cf8"/><circle cx="1071.25" cy="396.53" r="4.1" fill="#680af9"/><circle cx="1071.25" cy="406.21" r="4.1" fill="#6209f9"/><circle cx="1071.25" cy="428.53" r="4.1" fill="#5305fb"/><circle cx="1071.25" cy="443.74" r="4.1" fill="#4703fc"/><circle cx="1071.25" cy="456.38" r="4.1" fill="#3a02fd"/><circle cx="1071.25" cy="466.25" r="4.1" fill="#2e01fe"/><circle cx="1071.25" cy="483.04" r="4.1" fill="#0500ff"/><circle cx="1098.57" cy="290.84" r="4.1" fill="#9b1ef1"/><circle cx="1098.57" cy="310.98" r="4.1" fill="#921af2"/><circle cx="1098.57" cy="318.49" r="4.1" fill="#8f19f3"/><circle cx="1098.57" cy="321.06" r="4.1" fill="#8e18f3"/><circle cx="1098.57" cy="336.27" r="4.1" fill="#8716f4"/><circle cx="1098.57" cy="339.62" r="4.1" fill="#8615f5"/><circle cx="1098.57" cy="343.18" r="4.1" fill="#8414f5"/><circle cx="1098.57" cy="346.73" r="4.1" fill="#8214f5"/><circle cx="1098.57" cy="351.08" r="4.1" fill="#8013f5"/><circle cx="1098.57" cy="358.98" r="4.1" fill="#7c12f6"/><circle cx="1098.57" cy="363.32" r="4.1" fill="#7a11f6"/><circle cx="1098.57" cy="372.81" r="4.1" fill="#750ff7"/><circle cx="1098.57" cy="384.06" r="4.1" fill="#6f0df8"/><circle cx="1098.57" cy="390.58" r="4.1" fill="#6c0cf8"/><circle cx="1098.57" cy="391.00" r="4.1" fill="#6b0cf8"/><circle cx="1098.57" cy="393.96" r="4.1" fill="#6a0bf9"/><circle cx="1098.57" cy="396.93" r="4.1" fill="#680af9"/><circle cx="1098.57" cy="399.89" r="4.1" fill="#660af9"/><circle cx="1098.57" cy="402.85" r="4.1" fill="#6409f9"/><circle cx="1098.57" cy="405.81" r="4.1" fill="#6309f9"/><circle cx="1098.57" cy="408.78" r="4.1" fill="#6108fa"/><circle cx="1098.57" cy="411.34" r="4.1" fill="#5f08fa"/><circle cx="1098.57" cy="422.21" r="4.1" fill="#5806fb"/><circle cx="1098.57" cy="427.54" r="4.1" fill="#5405fb"/><circle cx="1098.57" cy="440.38" r="4.1" fill="#4904fc"/><circle cx="1098.57" cy="443.93" r="4.1" fill="#4603fc"/><circle cx="1098.57" cy="447.29" r="4.1" fill="#4303fc"/><circle cx="1098.57" cy="450.25" r="4.1" fill="#4003fd"/><circle cx="1098.57" cy="457.76" r="4.1" fill="#3802fd"/><circle cx="1098.57" cy="470.99" r="4.1" fill="#2601fe"/><circle cx="1098.57" cy="483.04" r="4.1" fill="#0500ff"/><circle cx="1158.67" cy="199.17" r="4.1" fill="#d9009a"/><circle cx="1158.67" cy="250.52" r="4.1" fill="#ba15d1"/><circle cx="1158.67" cy="321.85" r="4.1" fill="#8e18f3"/><circle cx="1158.67" cy="329.95" r="4.1" fill="#8a17f4"/><circle cx="1158.67" cy="369.45" r="4.1" fill="#7710f7"/><circle cx="1158.67" cy="436.43" r="4.1" fill="#4d04fc"/><circle cx="1191.45" cy="315.53" r="4.1" fill="#9119f3"/><circle cx="1191.45" cy="326.39" r="4.1" fill="#8c17f4"/><circle cx="1191.45" cy="370.44" r="4.1" fill="#770ff7"/><circle cx="1191.45" cy="382.29" r="4.1" fill="#700df8"/><circle cx="1191.45" cy="387.62" r="4.1" fill="#6d0cf8"/><circle cx="1191.45" cy="390.98" r="4.1" fill="#6b0cf8"/><circle cx="1191.45" cy="400.88" r="4.1" fill="#660af9"/><circle cx="1191.45" cy="404.43" r="4.1" fill="#6309f9"/><circle cx="1191.45" cy="410.75" r="4.1" fill="#5f08fa"/><circle cx="1191.45" cy="414.70" r="4.1" fill="#5d07fa"/><circle cx="1191.45" cy="418.65" r="4.1" fill="#5a07fa"/><circle cx="1191.45" cy="422.21" r="4.1" fill="#5806fb"/><circle cx="1191.45" cy="425.56" r="4.1" fill="#5506fb"/><circle cx="1191.45" cy="434.85" r="4.1" fill="#4e04fb"/><circle cx="1191.45" cy="448.28" r="4.1" fill="#4203fc"/><circle cx="1191.45" cy="456.18" r="4.1" fill="#3a02fd"/><circle cx="1218.77" cy="242.03" r="4.1" fill="#c011c8"/><circle cx="1218.77" cy="260.79" r="4.1" fill="#b119dd"/><circle cx="1218.77" cy="276.59" r="4.1" fill="#a21fee"/><circle cx="1218.77" cy="291.83" r="4.1" fill="#9a1ef1"/><circle cx="1218.77" cy="308.02" r="4.1" fill="#941bf2"/><circle cx="1218.77" cy="314.14" r="4.1" fill="#911af3"/><circle cx="1218.77" cy="320.46" r="4.1" fill="#8e18f3"/><circle cx="1218.77" cy="338.64" r="4.1" fill="#8615f4"/><circle cx="1218.77" cy="352.46" r="4.1" fill="#8013f5"/><circle cx="1218.77" cy="359.97" r="4.1" fill="#7c11f6"/><circle cx="1218.77" cy="364.90" r="4.1" fill="#7910f6"/><circle cx="1218.77" cy="385.64" r="4.1" fill="#6e0df8"/><circle cx="1218.77" cy="389.59" r="4.1" fill="#6c0cf8"/><circle cx="1218.77" cy="391.99" r="4.1" fill="#6b0bf8"/><circle cx="1218.77" cy="404.04" r="4.1" fill="#6409f9"/><circle cx="1218.77" cy="435.44" r="4.1" fill="#4e04fc"/><circle cx="1218.77" cy="438.40" r="4.1" fill="#4b04fc"/><circle cx="1218.77" cy="448.67" r="4.1" fill="#4203fc"/><circle cx="1218.77" cy="455.39" r="4.1" fill="#3b02fd"/><circle cx="1218.77" cy="469.02" r="4.1" fill="#2a01fe"/><circle cx="1218.77" cy="483.04" r="4.1" fill="#0500ff"/><circle cx="1251.55" cy="382.48" r="4.1" fill="#700df8"/><circle cx="1251.55" cy="406.21" r="4.1" fill="#6209f9"/><circle cx="1251.55" cy="462.89" r="4.1" fill="#3201fd"/><circle cx="1278.87" cy="100.30" r="4.1" fill="#f90031"/><circle cx="1278.87" cy="249.34" r="4.1" fill="#bb14d0"/><circle cx="1278.87" cy="324.42" r="4.1" fill="#8d18f3"/><circle cx="1278.87" cy="327.38" r="4.1" fill="#8b17f4"/><circle cx="1278.87" cy="365.50" r="4.1" fill="#7910f6"/><circle cx="1278.87" cy="374.19" r="4.1" fill="#750ff7"/><circle cx="1278.87" cy="398.70" r="4.1" fill="#670af9"/><circle cx="1278.87" cy="414.31" r="4.1" fill="#5d07fa"/><circle cx="1278.87" cy="418.06" r="4.1" fill="#5a07fa"/><circle cx="1278.87" cy="444.33" r="4.1" fill="#4603fc"/><circle cx="1338.97" cy="279.58" r="4.1" fill="#9f20f0"/><circle cx="1338.97" cy="342.19" r="4.1" fill="#8515f5"/><circle cx="1338.97" cy="345.15" r="4.1" fill="#8314f5"/><circle cx="1338.97" cy="352.26" r="4.1" fill="#8013f5"/><circle cx="1338.97" cy="411.54" r="4.1" fill="#5f08fa"/><circle cx="1338.97" cy="441.96" r="4.1" fill="#4803fc"/><circle cx="1399.07" cy="299.33" r="4.1" fill="#971cf2"/><circle cx="1399.07" cy="314.54" r="4.1" fill="#911af3"/><circle cx="1399.07" cy="318.09" r="4.1" fill="#8f19f3"/><circle cx="1399.07" cy="325.40" r="4.1" fill="#8c18f3"/><circle cx="1399.07" cy="333.90" r="4.1" fill="#8816f4"/><circle cx="1399.07" cy="358.39" r="4.1" fill="#7d12f6"/><circle cx="1399.07" cy="373.60" r="4.1" fill="#750ff7"/><circle cx="1399.07" cy="381.30" r="4.1" fill="#710df8"/><circle cx="1399.07" cy="388.01" r="4.1" fill="#6d0cf8"/><circle cx="1399.07" cy="391.00" r="4.1" fill="#6b0cf8"/><circle cx="1399.07" cy="397.91" r="4.1" fill="#670af9"/><circle cx="1399.07" cy="404.83" r="4.1" fill="#6309f9"/><circle cx="1399.07" cy="410.75" r="4.1" fill="#5f08fa"/><circle cx="1399.07" cy="413.71" r="4.1" fill="#5d07fa"/><circle cx="1399.07" cy="416.68" r="4.1" fill="#5b07fa"/><circle cx="1399.07" cy="433.46" r="4.1" fill="#4f04fb"/><circle cx="1399.07" cy="437.42" r="4.1" fill="#4c04fc"/><circle cx="1399.07" cy="444.33" r="4.1" fill="#4603fc"/><circle cx="1399.07" cy="449.27" r="4.1" fill="#4103fd"/><circle cx="1399.07" cy="454.20" r="4.1" fill="#3c02fd"/><circle cx="1431.85" cy="228.99" r="4.1" fill="#c90bba"/><circle cx="1431.85" cy="307.23" r="4.1" fill="#941bf2"/><circle cx="1431.85" cy="330.93" r="4.1" fill="#8a17f4"/><circle cx="1431.85" cy="335.28" r="4.1" fill="#8816f4"/><circle cx="1431.85" cy="341.20" r="4.1" fill="#8515f5"/><circle cx="1431.85" cy="347.72" r="4.1" fill="#8214f5"/><circle cx="1431.85" cy="362.53" r="4.1" fill="#7b11f6"/><circle cx="1431.85" cy="366.88" r="4.1" fill="#7810f7"/><circle cx="1431.85" cy="374.78" r="4.1" fill="#740ff7"/><circle cx="1431.85" cy="380.71" r="4.1" fill="#710df8"/><circle cx="1431.85" cy="390.98" r="4.1" fill="#6b0cf8"/><circle cx="1431.85" cy="395.94" r="4.1" fill="#690bf9"/><circle cx="1431.85" cy="400.88" r="4.1" fill="#660af9"/><circle cx="1431.85" cy="433.46" r="4.1" fill="#4f04fb"/><circle cx="1431.85" cy="439.79" r="4.1" fill="#4a04fc"/><circle cx="1431.85" cy="446.70" r="4.1" fill="#4403fc"/><circle cx="1431.85" cy="454.20" r="4.1" fill="#3c02fd"/><circle cx="1431.85" cy="483.04" r="4.1" fill="#0500ff"/><circle cx="1459.17" cy="182.97" r="4.1" fill="#e10089"/><circle cx="1459.17" cy="253.88" r="4.1" fill="#b716d5"/><circle cx="1459.17" cy="260.40" r="4.1" fill="#b219dc"/><circle cx="1459.17" cy="274.03" r="4.1" fill="#a41eeb"/><circle cx="1459.17" cy="278.00" r="4.1" fill="#a020f0"/><circle cx="1459.17" cy="280.96" r="4.1" fill="#9f1ff0"/><circle cx="1459.17" cy="283.93" r="4.1" fill="#9e1ff0"/><circle cx="1459.17" cy="286.89" r="4.1" fill="#9c1ef1"/><circle cx="1459.17" cy="290.25" r="4.1" fill="#9b1ef1"/><circle cx="1459.17" cy="304.27" r="4.1" fill="#951bf2"/><circle cx="1459.17" cy="318.09" r="4.1" fill="#8f19f3"/><circle cx="1459.17" cy="328.96" r="4.1" fill="#8b17f4"/><circle cx="1459.17" cy="349.89" r="4.1" fill="#8113f5"/><circle cx="1459.17" cy="357.00" r="4.1" fill="#7d12f6"/><circle cx="1459.17" cy="360.95" r="4.1" fill="#7b11f6"/><circle cx="1459.17" cy="369.84" r="4.1" fill="#7710f7"/><circle cx="1459.17" cy="373.79" r="4.1" fill="#750ff7"/><circle cx="1459.17" cy="376.76" r="4.1" fill="#730ef7"/><circle cx="1459.17" cy="386.63" r="4.1" fill="#6e0cf8"/><circle cx="1459.17" cy="393.96" r="4.1" fill="#6a0bf9"/><circle cx="1459.17" cy="397.91" r="4.1" fill="#670af9"/><circle cx="1459.17" cy="401.86" r="4.1" fill="#6509f9"/><circle cx="1459.17" cy="404.83" r="4.1" fill="#6309f9"/><circle cx="1459.17" cy="414.70" r="4.1" fill="#5d07fa"/><circle cx="1459.17" cy="418.65" r="4.1" fill="#5a07fa"/><circle cx="1459.17" cy="422.21" r="4.1" fill="#5806fb"/><circle cx="1459.17" cy="425.56" r="4.1" fill="#5506fb"/><circle cx="1459.17" cy="442.75" r="4.1" fill="#4703fc"/><circle cx="1459.17" cy="448.87" r="4.1" fill="#4203fc"/><circle cx="1459.17" cy="458.55" r="4.1" fill="#3802fd"/><circle cx="1459.17" cy="483.04" r="4.1" fill="#0500ff"/></g>
<g fill="#333333"><rect x="92.76" y="0" width="1382.30" height="1.75"/><rect x="92.76" y="49.95" width="1382.30" height="3.5"/><rect x="92.76" y="502.95" width="1382.30" height="1.75"/><rect x="92.76" y="0" width="1.75" height="504.7"/><rect x="1473.31" y="0" width="1.75" height="504.7"/><rect x="151.11" y="0" width="3.5" height="504.7"/><rect x="211.21" y="0" width="3.5" height="504.7"/><rect x="271.31" y="0" width="3.5" height="504.7"/><rect x="331.41" y="0" width="3.5" height="504.7"/><rect x="391.51" y="0" width="3.5" height="504.7"/><rect x="451.61" y="0" width="3.5" height="504.7"/><rect x="511.71" y="0" width="3.5" height="504.7"/><rect x="571.81" y="0" width="3.5" height="504.7"/><rect x="631.91" y="0" width="3.5" height="504.7"/><rect x="692.01" y="0" width="3.5" height="504.7"/><rect x="752.11" y="0" width="3.5" height="504.7"/><rect x="812.21" y="0" width="3.5" height="504.7"/><rect x="872.31" y="0" width="3.5" height="504.7"/><rect x="932.41" y="0" width="3.5" height="504.7"/><rect x="992.51" y="0" width="3.5" height="504.7"/><rect x="1052.61" y="0" width="3.5" height="504.7"/><rect x="1112.71" y="0" width="3.5" height="504.7"/><rect x="1172.81" y="0" width="3.5" height="504.7"/><rect x="1232.91" y="0" width="3.5" height="504.7"/><rect x="1293.01" y="0" width="3.5" height="504.7"/><rect x="1353.11" y="0" width="3.5" height="504.7"/><rect x="1413.21" y="0" width="3.5" height="504.7"/><rect x="83.3" y="482.30" width="9.46" height="3.4"/><rect x="83.3" y="379.35" width="9.46" height="3.4"/><rect x="83.3" y="276.40" width="9.46" height="3.4"/><rect x="83.3" y="173.45" width="9.46" height="3.4"/><rect x="83.3" y="70.50" width="9.46" height="3.4"/><rect x="107.45" y="504.7" width="3.4" height="9.20"/><rect x="134.77" y="504.7" width="3.4" height="9.20"/><rect x="167.55" y="504.7" width="3.4" height="9.20"/><rect x="194.87" y="504.7" width="3.4" height="9.20"/><rect x="227.65" y="504.7" width="3.4" height="9.20"/><rect x="254.97" y="504.7" width="3.4" height="9.20"/><rect x="287.75" y="504.7" width="3.4" height="9.20"/><rect x="315.07" y="504.7" width="3.4" height="9.20"/><rect x="347.85" y="504.7" width="3.4" height="9.20"/><rect x="375.17" y="504.7" width="3.4" height="9.20"/><rect x="407.95" y="504.7" width="3.4" height="9.20"/><rect x="435.27" y="504.7" width="3.4" height="9.20"/><rect x="468.05" y="504.7" width="3.4" height="9.20"/><rect x="495.37" y="504.7" width="3.4" height="9.20"/><rect x="528.15" y="504.7" width="3.4" height="9.20"/><rect x="555.47" y="504.7" width="3.4" height="9.20"/><rect x="588.25" y="504.7" width="3.4" height="9.20"/><rect x="615.57" y="504.7" width="3.4" height="9.20"/><rect x="648.35" y="504.7" width="3.4" height="9.20"/><rect x="675.67" y="504.7" width="3.4" height="9.20"/><rect x="708.45" y="504.7" width="3.4" height="9.20"/><rect x="735.77" y="504.7" width="3.4" height="9.20"/><rect x="768.55" y="504.7" width="3.4" height="9.20"/><rect x="795.87" y="504.7" width="3.4" height="9.20"/><rect x="828.65" y="504.7" width="3.4" height="9.20"/><rect x="855.97" y="504.7" width="3.4" height="9.20"/><rect x="888.75" y="504.7" width="3.4" height="9.20"/><rect x="916.07" y="504.7" width="3.4" height="9.20"/><rect x="948.85" y="504.7" width="3.4" height="9.20"/><rect x="976.17" y="504.7" width="3.4" height="9.20"/><rect x="1008.95" y="504.7" width="3.4" height="9.20"/><rect x="1036.27" y="504.7" width="3.4" height="9.20"/><rect x="1069.05" y="504.7" width="3.4" height="9.20"/><rect x="1096.37" y="504.7" width="3.4" height="9.20"/><rect x="1129.15" y="504.7" width="3.4" height="9.20"/><rect x="1156.47" y="504.7" width="3.4" height="9.20"/><rect x="1189.25" y="504.7" width="3.4" height="9.20"/><rect x="1216.57" y="504.7" width="3.4" height="9.20"/><rect x="1249.35" y="504.7" width="3.4" height="9.20"/><rect x="1276.67" y="504.7" width="3.4" height="9.20"/><rect x="1309.45" y="504.7" width="3.4" height="9.20"/><rect x="1336.77" y="504.7" width="3.4" height="9.20"/><rect x="1369.55" y="504.7" width="3.4" height="9.20"/><rect x="1396.87" y="504.7" width="3.4" height="9.20"/><rect x="1429.65" y="504.7" width="3.4" height="9.20"/><rect x="1456.97" y="504.7" width="3.4" height="9.20"/></g>
<g font-size="19.85" fill="#1a1a1a" text-anchor="middle"><text x="122.81" y="33.0">1</text><text x="182.91" y="33.0">2</text><text x="243.01" y="33.0">3</text><text x="303.11" y="33.0">4</text><text x="363.21" y="33.0">5</text><text x="423.31" y="33.0">6</text><text x="483.41" y="33.0">7</text><text x="543.51" y="33.0">8</text><text x="603.61" y="33.0">9</text><text x="663.71" y="33.0">10</text><text x="723.81" y="33.0">11</text><text x="783.91" y="33.0">12</text><text x="844.01" y="33.0">13</text><text x="904.11" y="33.0">14</text><text x="964.21" y="33.0">15</text><text x="1024.31" y="33.0">16</text><text x="1084.41" y="33.0">17</text><text x="1144.51" y="33.0">18</text><text x="1204.61" y="33.0">19</text><text x="1264.71" y="33.0">20</text><text x="1324.81" y="33.0">21</text><text x="1384.91" y="33.0">22</text><text x="1445.01" y="33.0">X</text></g>
<g font-size="20.1" fill="#4d4d4d" text-anchor="end"><text x="75.8" y="491.30">0.00</text><text x="75.8" y="388.35">0.25</text><text x="75.8" y="285.40">0.50</text><text x="75.8" y="182.45">0.75</text><text x="75.8" y="79.50">1.00</text></g>
<g font-size="19.85" fill="#4d4d4d" text-anchor="middle"><text x="109.15" y="536.1">p</text><text x="136.47" y="536.1">q</text><text x="169.25" y="536.1">p</text><text x="196.57" y="536.1">q</text><text x="229.35" y="536.1">p</text><text x="256.67" y="536.1">q</text><text x="289.45" y="536.1">p</text><text x="316.77" y="536.1">q</text><text x="349.55" y="536.1">p</text><text x="376.87" y="536.1">q</text><text x="409.65" y="536.1">p</text><text x="436.97" y="536.1">q</text><text x="469.75" y="536.1">p</text><text x="497.07" y="536.1">q</text><text x="529.85" y="536.1">p</text><text x="557.17" y="536.1">q</text><text x="589.95" y="536.1">p</text><text x="617.27" y="536.1">q</text><text x="650.05" y="536.1">p</text><text x="677.37" y="536.1">q</text><text x="710.15" y="536.1">p</text><text x="737.47" y="536.1">q</text><text x="770.25" y="536.1">p</text><text x="797.57" y="536.1">q</text><text x="830.35" y="536.1">p</text><text x="857.67" y="536.1">q</text><text x="890.45" y="536.1">p</text><text x="917.77" y="536.1">q</text><text x="950.55" y="536.1">p</text><text x="977.87" y="536.1">q</text><text x="1010.65" y="536.1">p</text><text x="1037.97" y="536.1">q</text><text x="1070.75" y="536.1">p</text><text x="1098.07" y="536.1">q</text><text x="1130.85" y="536.1">p</text><text x="1158.17" y="536.1">q</text><text x="1190.95" y="536.1">p</text><text x="1218.27" y="536.1">q</text><text x="1251.05" y="536.1">p</text><text x="1278.37" y="536.1">q</text><text x="1311.15" y="536.1">p</text><text x="1338.47" y="536.1">q</text><text x="1371.25" y="536.1">p</text><text x="1398.57" y="536.1">q</text><text x="1431.35" y="536.1">p</text><text x="1458.67" y="536.1">q</text></g>
<text x="783.91" y="571.0" font-size="23.8" text-anchor="middle" fill="#000">chromosome arm</text>
<text transform="translate(16.9,277.50) rotate(-90)" font-size="23.8" text-anchor="middle" fill="#000">ICC</text>
<text x="1533.7" y="133.0" font-size="23.8" fill="#000">ICC</text>
<g><rect x="1534.0" y="147.70" width="59.40" height="14.23" fill="#ff0000"/><rect x="1534.0" y="161.63" width="59.40" height="14.23" fill="#fb0027"/><rect x="1534.0" y="175.56" width="59.40" height="14.23" fill="#f6003f"/><rect x="1534.0" y="189.49" width="59.40" height="14.23" fill="#f10056"/><rect x="1534.0" y="203.41" width="59.40" height="14.23" fill="#eb006b"/><rect x="1534.0" y="217.34" width="59.40" height="14.23" fill="#e40081"/><rect x="1534.0" y="231.27" width="59.40" height="14.23" fill="#db0096"/><rect x="1534.0" y="245.20" width="59.40" height="14.23" fill="#d105ac"/><rect x="1534.0" y="259.13" width="59.40" height="14.23" fill="#c40fc2"/><rect x="1534.0" y="273.06" width="59.40" height="14.23" fill="#b418d9"/><rect x="1534.0" y="286.99" width="59.40" height="14.23" fill="#a020f0"/><rect x="1534.0" y="300.91" width="59.40" height="14.23" fill="#981cf2"/><rect x="1534.0" y="314.84" width="59.40" height="14.23" fill="#8f19f3"/><rect x="1534.0" y="328.77" width="59.40" height="14.23" fill="#8615f5"/><rect x="1534.0" y="342.70" width="59.40" height="14.23" fill="#7c11f6"/><rect x="1534.0" y="356.63" width="59.40" height="14.23" fill="#710df8"/><rect x="1534.0" y="370.56" width="59.40" height="14.23" fill="#650af9"/><rect x="1534.0" y="384.49" width="59.40" height="14.23" fill="#5806fb"/><rect x="1534.0" y="398.41" width="59.40" height="14.23" fill="#4703fc"/><rect x="1534.0" y="412.34" width="59.40" height="14.23" fill="#3201fe"/><rect x="1534.0" y="426.27" width="59.40" height="14.23" fill="#0000ff"/></g>
<g fill="#fff"><rect x="1534.0" y="431.56" width="11.9" height="1.8"/><rect x="1581.50" y="431.56" width="11.9" height="1.8"/><rect x="1534.0" y="362.21" width="11.9" height="1.8"/><rect x="1581.50" y="362.21" width="11.9" height="1.8"/><rect x="1534.0" y="292.86" width="11.9" height="1.8"/><rect x="1581.50" y="292.86" width="11.9" height="1.8"/><rect x="1534.0" y="223.51" width="11.9" height="1.8"/><rect x="1581.50" y="223.51" width="11.9" height="1.8"/><rect x="1534.0" y="154.16" width="11.9" height="1.8"/><rect x="1581.50" y="154.16" width="11.9" height="1.8"/></g>
<g font-size="19.85" fill="#000"><text x="1608.0" y="439.46">0.00</text><text x="1608.0" y="370.11">0.25</text><text x="1608.0" y="300.76">0.50</text><text x="1608.0" y="231.41">0.75</text><text x="1608.0" y="162.06">1.00</text></g>
</svg></body></html>
